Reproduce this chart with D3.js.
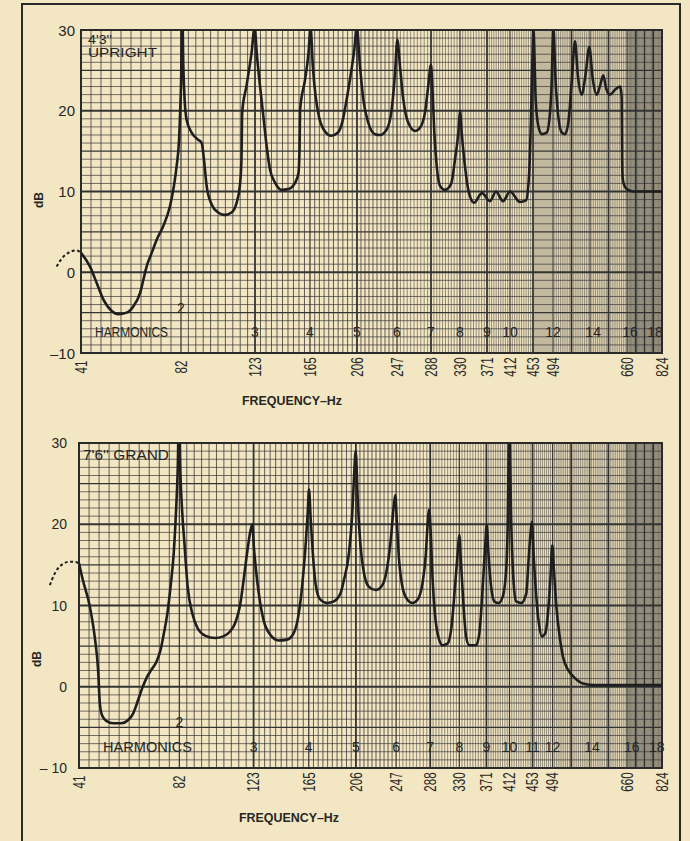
<!DOCTYPE html>
<html><head><meta charset="utf-8">
<script src="https://cdn.jsdelivr.net/npm/d3@7"></script>
<style>
html,body{margin:0;padding:0;background:#f3e6c3;}
svg{display:block;}
text{fill:#262626;font-family:"Liberation Sans",Arial,sans-serif;}
</style></head><body>
<svg id="chart" width="690" height="841"></svg>
<script>
// ---------------- DATA ----------------
const tickHz   = [41, 82, 123, 165, 206, 247, 288, 330, 371, 412, 453, 494, 660, 824];
const tickHarm = [1, 2, 3, 4, 5, 6, 7, 8, 9, 10, 11, 12, 16, 20];
const dbTicks  = [30, 20, 10, 0, -10];
const dbTickLabelsTop = ["30", "20", "10", "0", "\u201310"];
const dbTickLabelsBottom = ["30", "20", "10", "0", "\u2013 10"];

const harmLabelsTop   = ["3","4","5","6","7","8","9","10","12","14","16","18"];
const harmHzTop       = [123,165,206,247,288,330,371,412,494,584,674,791];
const harmLabelsBottom = ["3","4","5","6","7","8","9","10","11","12","14","16","18"];
const harmHzBottom     = [123,165,206,247,288,330,371,412,453,494,582,683,800];

// 4'3" upright: [Hz, dB]
const uprightCurve = [
 [41,2.4],[44.7,0.7],[47.4,-1.3],[50.2,-3.4],[53.6,-4.8],[56.3,-5.2],[59.7,-5.0],[62.5,-4.2],[65.2,-2.6],[66.6,-0.9],
 [67.9,0.7],[70,2.4],[72,4.0],[74.7,5.7],[77.5,8.2],[79.1,10.7],[80.2,13.1],[81.2,16.4],[81.7,20.2],[82.2,25.5],[82.6,34],
 [83.3,25.5],[84,21.4],[85.1,18.9],[87.9,17.3],[91.6,16.4],[93.5,16.0],[94.7,14.0],[96.2,10.7],[99,8.4],[102.6,7.4],
 [106.3,7.1],[110,7.4],[112.8,8.6],[114.6,10.7],[115.5,14.0],[115.9,19.8],[118.3,23.1],[121.1,27.2],[122.8,30.4],
 [124.3,27.2],[126.8,23.1],[129.4,19.3],[131.9,15.6],[134.5,12.7],[138.3,11.1],[143.4,10.2],[148.5,10.3],[153.7,11.1],
 [156.2,12.3],[157,15.2],[157.5,20.2],[161.3,23.9],[163.9,27.2],[165.5,30.4],
 [167.5,25.5],[169.9,21.8],[172.8,19.3],[177.8,17.5],[183.6,16.9],[189.4,17.3],[193.7,18.9],[195.5,20.2],[199.9,23.9],
 [203.7,27.6],[205.8,30.4],
 [209.1,25.5],[212.5,21.4],[217.6,18.5],[224.5,17.1],[229.6,17.0],[236.5,17.7],[241.6,20.2],[245,24.7],[247.4,28.8],
 [250.6,25.5],[254.6,21.4],[260.6,18.5],[268.7,17.5],[274.7,17.9],[280.8,19.8],[284.7,23.1],[288,25.7],
 [289.9,23.1],[292.8,17.3],[296.3,13.1],[301,10.7],[308.3,10.2],[317,10.9],[322.8,14.0],[327.6,17.3],[330,20.0],
 [332.6,17.3],[337.6,13.1],[342.6,10.2],[351.3,8.6],[363.4,9.8],[376.3,8.8],[387,10.0],[399.5,8.8],[412,10.0],
 [429.8,8.7],[440.5,8.9],[445.9,12],[448.5,17],[450.3,22],[452.1,27],[453.6,30.4],
 [458.5,21.4],[463.9,18.1],[470.8,17.1],[481.1,17.3],[487.9,19.8],[491.3,23.5],[494.7,30.4],
 [500,23.5],[505.9,19.3],[513.5,17.3],[520.9,17.1],[528.3,18.5],[535.9,23.5],[543.3,28.6],
 [550,24.2],[558.4,22.0],[567,24.5],[575.4,27.9],[583,24.0],[592,22.0],[600,23.2],[606.8,24.4],[613,22.8],
 [621.8,22.0],[633,22.6],[644.3,23.0],[646.5,22.6],[648,21.5],[649,14],[650.5,11.5],[655,10.6],[665,10.2],
 [690,10.0],[824,10.0]
];
const uprightDashed = [[31,0.7],[33.1,1.7],[35.8,2.4],[39.2,2.7],[41,2.4]];

// 7'6" grand: [Hz, dB]
const grandCurve = [
 [41,15.2],[42.6,13.1],[45.4,9.9],[47.4,6.2],[48.8,2.1],[49.5,-2.0],[50.4,-3.5],[52.2,-4.2],[54.9,-4.5],[58.3,-4.5],
 [61.1,-4.1],[63.1,-3.3],[65.2,-1.6],[66.8,-0.2],[68.6,1.1],[70.6,2.1],[72.7,3.1],[74.3,4.5],[75.7,6.6],[77.1,9.0],
 [78.4,12.3],[79.7,16.4],[80.6,21.3],[81.3,26.3],[81.9,34],
 [82.6,26.3],[83.5,21.8],[84.8,17.7],[86.6,12.3],[89.2,9.0],[92.1,7.2],[96.2,6.3],[101.7,6.0],[106.3,6.2],[110,6.8],
 [113.1,8.0],[115.5,10.0],[117.7,13.5],[119.6,16.8],[121.1,19.0],[122.3,20.0],
 [123.2,17.2],[124.8,14.4],[127.3,11.1],[130.6,8.2],[135.7,6.4],[142,5.7],[148.4,5.8],[153.5,6.6],[156.5,8.2],
 [159.1,11.1],[161.1,14.4],[162.9,18.1],[164.2,21.4],[165.2,24.3],
 [166.7,20.6],[168.5,16.5],[170.8,12.8],[174.6,10.8],[181,10.3],[186.8,10.5],[192.6,11.5],[195.5,13.1],[199.9,16.4],
 [202.8,21.3],[204.2,25.4],[205.8,29.0],
 [208,22.6],[210.8,17.2],[214.2,14.0],[219.3,12.3],[226.2,11.9],[232.9,12.5],[238.1,14.8],[242.2,18.9],[244.2,21.8],
 [246.2,23.6],
 [247.8,20.5],[250.6,15.6],[254.6,12.3],[260.6,10.7],[266.7,10.3],[272.7,10.7],[278.7,12.7],[282.8,16.4],[284.7,19.7],
 [286.8,21.8],
 [289,18.5],[291.3,13.5],[294.8,9.0],[298.6,6.6],[305.8,5.1],[313,5.3],[318.8,7.4],[323.8,12.3],[327.6,16.4],[330,18.7],
 [332.6,15.2],[336.5,9.9],[340.2,6.2],[345.2,5.1],[355.4,5.1],[360.4,6.6],[365.4,12.3],[369.1,17.2],[371.5,19.9],
 [374.6,16.4],[379.4,12.3],[385.3,10.5],[392.4,10.3],[400.1,11.1],[406.1,14.4],[409,20.5],[411.5,33],
 [415,20.5],[419.1,13.1],[423.9,10.5],[432.9,10.3],[441.8,11.5],[445.9,15.6],[449.4,18.9],[451.8,20.3],
 [455,16.4],[460.6,11.1],[465.9,7.8],[472.1,6.2],[479,6.6],[484.4,9.0],[489.3,13.1],[493.4,17.4],
 [496.9,14.4],[502.3,9.9],[509.7,6.2],[517.1,3.7],[528.3,2.1],[543.3,1.1],[562,0.4],[588,0.2],[824,0.2]
];
const grandDashed = [[29.1,12.5],[31.2,14.0],[33.9,15.0],[37.3,15.4],[40.3,15.3],[41,15.2]];

// ---------------- CHART ----------------
// non-uniform frequency axis of the original graph paper (fraction of plot width per tick)
const axisWarp = [0,0.1721,0.2995,0.3941,0.4750,0.5439,0.6024,0.6523,0.6988,0.7384,0.7780,0.8124,0.9398,1];

const svg = d3.select("#chart");
svg.append("rect").attr("x",22).attr("y",4).attr("width",658).attr("height",860)
  .attr("fill","none").attr("stroke","#2a2a2a").attr("stroke-width",2);

const panels = [
  {id:"up", left:81, right:662, top:30, bottom:353, ytPad:6, ytSize:15, dbLabel:[39,200], freq:[292,405],
   curve:uprightCurve, dashed:uprightDashed, dbLabels:dbTickLabelsTop, harmL:harmLabelsTop, harmHz:harmHzTop,
   titles:[{t:"4'3''",dB:28.3,x:88,size:12,len:24},{t:"UPRIGHT",dB:26.6,x:88,size:13,len:69}],
   harmWord:{x:95,size:14,len:73}},
  {id:"gr", left:79, right:662, top:443, bottom:768, ytPad:12, ytSize:14, dbLabel:[37,659], freq:[289,822],
   curve:grandCurve, dashed:grandDashed, dbLabels:dbTickLabelsBottom, harmL:harmLabelsBottom, harmHz:harmHzBottom,
   titles:[{t:"7'6'' GRAND",dB:27.9,x:83,size:14,len:86}],
   harmWord:{x:103,size:15,len:89}}
];

panels.forEach(p => {
  const x = d3.scaleLinear().domain(tickHz).range(axisWarp.map(f => p.left + f*(p.right-p.left)));
  const y = d3.scaleLinear().domain([-10,30]).range([p.bottom,p.top]);
  const g = svg.append("g");

  // graph-paper grid: vertical lines every 1/10 harmonic
  const vlines = [];
  for (let i=0;i<tickHz.length-1;i++){
    const steps = (tickHarm[i+1]-tickHarm[i])*10;
    const spacing = (x(tickHz[i+1])-x(tickHz[i]))/steps;
    for (let k=0;k<steps;k++){
      const hz = tickHz[i] + (tickHz[i+1]-tickHz[i])*k/steps;
      const h = tickHarm[i] + k/10;
      const isInt = k%10===0;
      const hi = Math.round(h);
      vlines.push({hz, w: isInt ? (hi%2===1 ? 1.8 : 1.2) : (spacing>4 ? 0.9 : 0.6), o: isInt?1:0.85});
    }
  }
  g.selectAll(".v").data(vlines).join("line")
    .attr("x1",d=>x(d.hz)).attr("x2",d=>x(d.hz)).attr("y1",p.top).attr("y2",p.bottom)
    .attr("stroke","#333").attr("stroke-width",d=>d.w).attr("stroke-opacity",d=>d.o);
  const hlines = d3.range(-10,31);
  g.selectAll(".h").data(hlines).join("line")
    .attr("x1",p.left).attr("x2",p.right).attr("y1",d=>y(d)).attr("y2",d=>y(d))
    .attr("stroke","#333").attr("stroke-width",d=> d%10===0?1.8:(d%5===0?1.1:0.8))
    .attr("stroke-opacity",d=> d%5===0?1:0.85);
  g.append("rect").attr("x",p.left).attr("y",p.top).attr("width",p.right-p.left).attr("height",p.bottom-p.top)
    .attr("fill","none").attr("stroke","#2a2a2a").attr("stroke-width",2);

  // curve
  const clipId = "clip-"+p.id;
  svg.append("clipPath").attr("id",clipId).append("rect")
    .attr("x",p.left).attr("y",p.top).attr("width",p.right-p.left).attr("height",p.bottom-p.top);
  const line = d3.line().x(d=>x(d[0])).y(d=>y(d[1])).curve(d3.curveMonotoneX);
  g.append("path").datum(p.curve).attr("d",line).attr("clip-path",`url(#${clipId})`)
    .attr("fill","none").attr("stroke","#1e1e1e").attr("stroke-width",2.6).attr("stroke-linejoin","round");
  g.append("path").datum(p.dashed).attr("d",line)
    .attr("fill","none").attr("stroke","#1e1e1e").attr("stroke-width",2).attr("stroke-dasharray","3,2.5");

  // y ticks
  g.selectAll(".yt").data(dbTicks).join("text")
    .attr("x",p.left-p.ytPad).attr("y",d=>y(d)).attr("text-anchor","end").attr("dominant-baseline","central")
    .style("font-size",p.ytSize+"px").text((d,i)=>p.dbLabels[i]);
  // x ticks (condensed, rotated)
  g.selectAll(".xt").data(tickHz).join("text")
    .attr("transform",d=>`translate(${x(d)},${p.bottom+14}) rotate(-90) scale(0.68,1)`)
    .attr("text-anchor","middle").attr("dominant-baseline","central")
    .style("font-size","17px").text(d=>d);
  // axis titles
  g.append("text").attr("transform",`translate(${p.dbLabel[0]},${p.dbLabel[1]}) rotate(-90)`)
    .attr("text-anchor","middle").attr("dominant-baseline","central")
    .style("font-size","12px").style("font-weight","bold").text("dB");
  g.append("text").attr("x",p.freq[0]).attr("y",p.freq[1]).attr("text-anchor","middle")
    .attr("textLength",100).attr("lengthAdjust","spacingAndGlyphs")
    .style("font-size","13px").style("font-weight","bold").text("FREQUENCY\u2013Hz");

  // panel titles
  p.titles.forEach(t => {
    g.append("text").attr("x",t.x).attr("y",y(t.dB)).attr("textLength",t.len).attr("lengthAdjust","spacingAndGlyphs")
      .style("font-size",t.size+"px").text(t.t);
  });
  // harmonics
  g.append("text").attr("x",p.harmWord.x).attr("y",y(-8)).attr("textLength",p.harmWord.len)
    .attr("lengthAdjust","spacingAndGlyphs").style("font-size",p.harmWord.size+"px").text("HARMONICS");
  g.append("text").attr("x",x(82)).attr("y",y(-5)).attr("text-anchor","middle").style("font-size","14px").text("2");
  g.selectAll(".hl").data(p.harmL).join("text")
    .attr("x",(d,i)=>x(p.harmHz[i])).attr("y",y(-8)).attr("text-anchor","middle")
    .style("font-size","14px").text(d=>d);
});
</script>
</body></html>
